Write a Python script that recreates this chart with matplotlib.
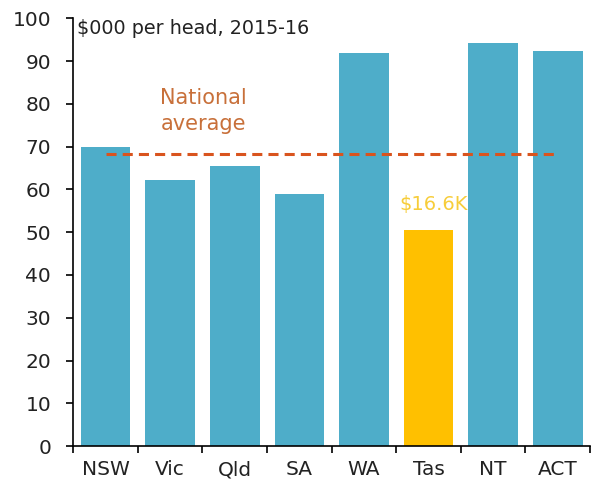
import matplotlib
matplotlib.use("Agg")
import matplotlib.pyplot as plt
import numpy as np

states = ["NSW", "Vic", "Qld", "SA", "WA", "Tas", "NT", "ACT"]
values = [69.9, 62.2, 65.5, 58.9, 91.8, 50.5, 94.2, 92.4]
national_avg = 68.2
highlight = "Tas"
highlight_label = "$16.6K"
y_ticks = [0, 10, 20, 30, 40, 50, 60, 70, 80, 90, 100]

plt.rcParams['font.family'] = ['DejaVu Sans']

fig = plt.figure(figsize=(5.96, 4.93), dpi=100)
ax = fig.add_axes([0.123, 0.095, 0.867, 0.868])

x = np.arange(len(states))
colors = ["#ffc000" if s == highlight else "#4eadc9" for s in states]
ax.bar(x, values, width=0.77, color=colors, zorder=2)

ax.plot([x[0], x[-1]], [national_avg, national_avg], color="#d9541e",
        linestyle=(0, (3.3, 2)), linewidth=2.2, zorder=3)
ax.text(1.51, 78.3, "National\naverage", color="#c8703a", fontsize=15,
        ha="center", va="center", multialignment="center", linespacing=1.35)

hi = states.index(highlight)
ax.text(x[hi] + 0.08, 56.5, highlight_label, color="#f7cd3a", fontsize=14,
        ha="center", va="center")

ax.text(-0.45, 97.6, "$000 per head, 2015-16", fontsize=13.8, ha="left",
        va="center", color="#222222")

ax.set_xlim(-0.5, len(states) - 0.5)
ax.set_ylim(0, 100)
ax.set_yticks(y_ticks)
ax.set_xticks(x)
ax.set_xticklabels(states)
ax.set_xticks(np.arange(-0.5, len(states)), minor=True)
ax.tick_params(axis="x", which="major", length=0, labelsize=14.5, pad=10,
               labelcolor="#222222")
ax.tick_params(axis="x", which="minor", length=5, width=1.2, direction="out")
ax.tick_params(axis="y", length=5, width=1.2, labelsize=14.5, direction="out",
               pad=11, labelcolor="#222222")
for s in ["top", "right"]:
    ax.spines[s].set_visible(False)
ax.spines["left"].set_linewidth(1.2)
ax.spines["bottom"].set_linewidth(1.2)

fig.savefig("out.png", dpi=100)
